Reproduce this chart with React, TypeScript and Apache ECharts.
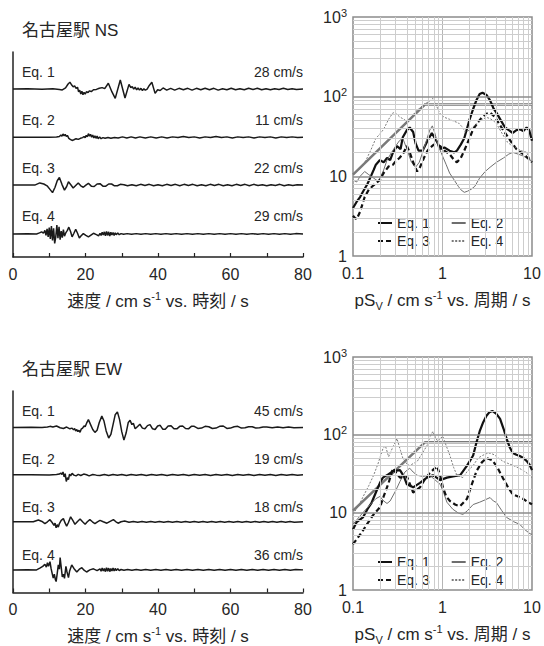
import React, { useEffect, useRef } from "react";
import * as echarts from "echarts";

const FONT = '"Liberation Sans", Arial, "Noto Sans CJK JP", sans-serif';
const TEXT = "#262626";

// ---- Velocity waveforms (time s, velocity cm/s) ----
const nsEq1: number[][] = [
  [0,0],[4,0.5],[8,-0.5],[11,0.5],[12.8,-1],[13.6,-2.5],[14.5,3],[15.2,14],[15.7,19],[16.2,11],[16.6,6],[17.0,9],[17.4,2],[17.8,5],[18.1,-8],[18.4,-3],[18.7,-14],[19.0,-6],[19.3,-16],[19.6,-9],[19.9,-14],[20.3,-7],[20.7,-10],[21.1,-5],[21.6,-7],[22.2,-2],[23,-1],[23.8,2],[24.6,4],[25.3,1],[26.3,16],[27.3,-8],[28.2,-26],[29.6,25],[30.9,-25],[32.0,13],[32.5,4],[32.9,7],[33.3,0],[33.7,5],[34.1,-2],[34.5,3],[34.9,-3],[35.3,2],[35.7,-4],[36.1,1],[36.5,-3],[37,0],[37.6,10],[38.3,19],[39.2,-12],[39.9,-2],[40.6,-4],[41.4,3],[42.4,-3],[43.5,2],[44.6,-3],[45.8,2],[47,-2],[48.2,2],[49.4,-3],[50.6,2],[51.8,-2],[53,2],[54.2,-2],[55.4,2],[56.6,-3],[57.8,1],[59,-2],[60.2,2],[61.4,-2],[62.6,1],[63.8,-2],[65,2],[66.2,-1],[67.4,2],[68.6,-2],[69.8,1],[71,-2],[72.2,1],[73.4,-1],[74.6,2],[75.8,-1],[77,1],[78.2,-1],[80,0]
];
const nsEq2: number[][] = [
  [0,0],[5,0.3],[10,-0.3],[12,0.5],[12.8,2],[13.2,6],[13.5,3],[13.8,9],[14.1,4],[14.4,8],[14.7,2],[15.0,5],[15.4,-3],[15.8,-6],[16.3,-9],[16.8,-7],[17.4,-4],[18.0,-6],[18.6,-3],[19.2,-1],[19.6,2],[19.9,-1],[20.2,5],[20.5,1],[20.8,10],[21.1,3],[21.4,8],[21.7,0],[22.0,6],[22.3,-2],[22.6,4],[22.9,-3],[23.2,3],[23.5,-4],[23.9,1],[24.3,-4],[24.8,-1],[25.4,-3],[26.2,-1],[27,-3],[28,-1],[29,-2],[30.2,1],[31.4,-2],[32.6,1],[33.8,-2],[35,1],[36.5,-2],[38,1],[39.5,-2],[41,1],[42.5,-2],[44,1],[45.5,-1],[47,2],[48.5,-1],[50,1],[51.5,-2],[53,1],[54.5,-1],[56,2],[57.5,-1],[59,1],[60.5,-2],[62,1],[63.5,-1],[65,1],[66.5,-2],[68,1],[69.5,-1],[71,1],[72.5,-2],[74,1],[75.5,-1],[77,1],[78.5,-1],[80,0]
];
const nsEq3: number[][] = [
  [0,0],[4,0.5],[6,0],[7.4,6],[8.5,3],[9.4,-2],[10.2,-12],[10.9,-21],[11.6,-6],[12.2,12],[12.8,21],[13.5,2],[14.2,-14],[14.8,-4],[15.3,9],[16,0],[16.6,-8],[17.3,-1],[18,6],[18.7,-2],[19.4,-6],[20.1,0],[20.8,5],[21.6,-3],[22.4,-4],[23.2,3],[24,4],[24.8,-3],[25.6,-3],[26.4,3],[27.2,3],[28,-2],[28.8,-2],[29.6,2],[30.6,1],[31.6,-2],[32.8,1],[34,-2],[35.2,2],[36.4,-1],[37.6,2],[38.8,-2],[40,1],[41.2,-2],[42.4,2],[43.6,-1],[44.8,2],[46,-2],[47.2,2],[48.4,-1],[49.6,2],[50.8,-2],[52,1],[53.2,-2],[54.4,2],[55.6,-1],[56.8,2],[58,-2],[59.2,1],[60.4,-2],[61.6,2],[62.8,-1],[64,2],[65.2,-2],[66.4,2],[67.6,-1],[68.8,1],[70,-2],[71.2,1],[72.4,-1],[73.6,2],[74.8,-2],[76,1],[77.2,-1],[78.4,1],[80,0]
];
const nsEq4: number[][] = [
  [0,0],[4,0.5],[6.5,0],[7.3,3],[7.9,6],[8.4,2],[8.8,10],[9.1,-4],[9.4,14],[9.7,-8],[10,18],[10.3,-14],[10.6,22],[10.9,-18],[11.2,16],[11.5,-26],[11.8,-8],[12.1,25],[12.4,-12],[12.7,20],[13,-16],[13.3,8],[13.6,-10],[13.9,12],[14.2,-6],[14.6,4],[15.0,10],[15.4,19],[15.9,6],[16.3,-8],[16.8,2],[17.3,13],[17.8,2],[18.3,-11],[18.8,-5],[19.4,1],[20.1,-4],[20.8,-8],[21.5,-3],[22.2,2],[23,-2],[23.6,-5],[24,2],[24.3,-4],[24.6,5],[24.9,-3],[25.2,6],[25.5,-5],[25.8,7],[26.1,-4],[26.4,6],[26.7,-6],[27,5],[27.3,-3],[27.6,4],[27.9,-4],[28.2,3],[28.5,-2],[28.9,3],[29.3,-2],[29.8,1],[30.5,-1],[31.5,1],[32.7,-1],[34,1],[35.3,-1],[36.6,1],[38,-1],[39.4,1],[40.8,-1],[42.2,1],[43.6,-1],[45,1],[46.5,-1],[48,1],[49.5,-1],[51,1],[52.5,-1],[54,1],[55.5,-1],[57,1],[58.5,-1],[60,1],[61.5,-1],[63,1],[64.5,-1],[66,1],[67.5,-1],[69,1],[70.5,-1],[72,1],[73.5,-1],[75,1],[76.5,-1],[78,1],[80,0]
];
const ewEq1: number[][] = [
  [0,0],[5,0.5],[8,-0.5],[9.5,1],[10.2,3],[11,1],[12,4],[13,-1],[13.9,-3],[14.8,1],[15.7,-4],[16.3,-2],[16.7,-7],[17.0,-3],[17.3,-10],[17.6,-6],[17.9,-12],[18.2,-8],[18.5,-14],[18.8,-5],[19.2,-2],[19.6,4],[19.9,2],[20.3,12],[20.8,22],[21.4,8],[22.0,-6],[22.6,-14],[23.2,-8],[23.8,14],[24.5,32],[25.1,18],[25.7,-10],[26.4,-30],[27.0,-20],[27.6,8],[28.2,36],[28.8,44],[29.4,22],[30.0,-12],[30.6,-36],[31.2,-16],[31.8,14],[32.3,20],[32.8,8],[33.2,12],[33.7,-4],[34.3,2],[35,9],[35.7,-2],[36.4,-4],[37.1,5],[37.8,8],[38.5,-4],[39.2,-6],[39.9,4],[40.6,6],[41.3,-5],[42,-5],[42.8,4],[43.6,5],[44.4,-4],[45.2,-4],[46,3],[46.8,4],[47.6,-3],[48.4,-4],[49.2,3],[50,3],[51,-3],[52,-2],[53,3],[54,2],[55,-3],[56,-2],[57,3],[58,4],[59,-3],[60,-2],[61,2],[62,3],[63,-2],[64,-1],[65,2],[66,2],[67,-2],[68,-1],[69,1],[70,1],[71.5,-1],[73,1],[74.5,-1],[76,1],[77.5,-1],[80,0]
];
const ewEq2: number[][] = [
  [0,0],[5,0.3],[10,-0.3],[12,0.5],[12.8,2],[13.2,5],[13.5,1],[13.8,8],[14.1,-6],[14.4,3],[14.7,-19],[15.0,-8],[15.3,-14],[15.6,2],[15.9,-3],[16.3,4],[16.8,-1],[17.4,-3],[18,1],[18.7,-2],[19.5,2],[20.3,0],[21,-3],[22,1],[23,-1],[24,-2],[25.2,1],[26.4,-2],[27.6,1],[28.8,-1],[30,1],[31.3,-2],[32.6,1],[34,-1],[35.4,1],[36.8,-2],[38.2,1],[39.6,-1],[41,1],[42.5,-2],[44,1],[45.5,-1],[47,1],[48.5,-2],[50,1],[51.5,-1],[53,1],[54.5,-2],[56,1],[57.5,-1],[59,1],[60.5,-2],[62,1],[63.5,-1],[65,1],[66.5,-2],[68,1],[69.5,-1],[71,1],[72.5,-2],[74,1],[75.5,-1],[77,1],[78.5,-1],[80,0]
];
const ewEq3: number[][] = [
  [0,0],[4,0.3],[5.6,0],[7,5],[8,1],[8.8,-5],[9.5,0],[10.2,6],[10.8,-2],[11.3,-10],[11.6,-4],[11.9,-17],[12.2,-8],[12.5,-15],[12.8,-5],[13.3,4],[13.9,9],[14.4,-4],[14.8,-12],[15.3,-2],[15.9,14],[16.5,4],[17.1,-7],[17.8,1],[18.5,8],[19.2,0],[19.9,-7],[20.5,0],[21.2,6],[21.9,0],[22.6,-5],[23.3,0],[24,4],[24.9,0],[25.9,-4],[26.8,1],[27.7,6],[28.4,0],[29,-4],[29.8,0],[30.8,2],[32,-1],[33.2,1],[34.4,-1],[35.6,1],[36.8,-1],[38,1],[39.2,-1],[40.4,1],[41.6,-1],[42.8,1],[44,-1],[45.2,1],[46.4,-1],[47.6,1],[48.8,-1],[50,1],[51.2,-1],[52.4,1],[53.6,-1],[54.8,1],[56,-1],[57.2,1],[58.4,-1],[59.6,1],[60.8,-1],[62,1],[63.2,-1],[64.4,1],[65.6,-1],[66.8,1],[68,-1],[69.2,1],[70.4,-1],[71.6,1],[72.8,-1],[74,1],[75.2,-1],[76.4,1],[77.6,-1],[80,0]
];
const ewEq4: number[][] = [
  [0,0],[4,0.5],[6.5,0],[7.4,5],[8.2,10],[8.8,16],[9.2,8],[9.5,20],[9.8,10],[10.2,23],[10.5,4],[10.8,-10],[11.1,-23],[11.4,-12],[11.7,-28],[11.9,-33],[12.2,-10],[12.5,14],[12.8,2],[13.0,35],[13.3,8],[13.6,-20],[13.9,-12],[14.2,-24],[14.6,10],[14.9,-6],[15.3,-22],[15.6,-4],[16.2,14],[16.8,4],[17.6,-6],[18.3,2],[19,6],[19.6,-1],[20.3,-6],[21.2,0],[22.2,3],[23.2,-2],[24,3],[24.3,-4],[24.6,5],[24.9,-3],[25.2,4],[25.5,-5],[25.8,6],[26.1,-4],[26.4,5],[26.7,-5],[27,4],[27.3,-3],[27.6,5],[27.9,-3],[28.2,4],[28.5,-2],[28.9,3],[29.3,-2],[29.8,1],[30.6,-1],[31.6,1],[32.8,-1],[34,1],[35.3,-1],[36.6,1],[38,-1],[39.4,1],[40.8,-1],[42.2,1],[43.6,-1],[45,1],[46.5,-1],[48,1],[49.5,-1],[51,1],[52.5,-1],[54,1],[55.5,-1],[57,1],[58.5,-1],[60,1],[61.5,-1],[63,1],[64.5,-1],[66,1],[67.5,-1],[69,1],[70.5,-1],[72,1],[73.5,-1],[75,1],[76.5,-1],[78,1],[80,0]
];

const EQ_NAMES = ["Eq. 1", "Eq. 2", "Eq. 3", "Eq. 4"];
const NS_PEAKS = ["28 cm/s", "11 cm/s", "22 cm/s", "29 cm/s"];
const EW_PEAKS = ["45 cm/s", "19 cm/s", "18 cm/s", "36 cm/s"];
// vertical offset (cm/s) of each stacked trace
const TRACE_OFFSETS = [-103, -237, -370, -506];
const WAVE_Y_MIN = -570;
const WAVE_Y_MAX = 0;
const TIME_MIN = 0;
const TIME_MAX = 80;
const TIME_STEP = 10;

// ---- Pseudo-velocity response spectra (period s, pSv cm/s) ----
const nsSpecEq1: number[][] = [[0.1,4],[0.11,4.8],[0.12,5.5],[0.13,6.5],[0.145,8],[0.155,9.5],[0.17,12],[0.18,14],[0.2,16],[0.22,15],[0.24,17],[0.26,16],[0.28,20],[0.31,24],[0.34,22],[0.36,31],[0.4,38],[0.43,41],[0.47,36],[0.5,26],[0.54,21],[0.6,21],[0.68,28],[0.76,35],[0.82,30],[0.87,27],[0.95,22],[1.05,23],[1.2,21],[1.35,20],[1.45,21],[1.6,25],[1.75,30],[2.0,51],[2.2,70],[2.4,91],[2.6,108],[2.8,112],[3.1,105],[3.4,90],[3.7,72],[4.0,63],[4.5,50],[5.0,41],[5.5,38],[6.1,35],[6.7,38],[7.3,39],[8.0,37],[8.7,41],[9.3,38],[10,28]];
const nsSpecEq2: number[][] = [[0.1,9],[0.11,8.5],[0.12,10],[0.135,11.5],[0.15,10.5],[0.17,9.5],[0.19,8.7],[0.2,9.5],[0.22,12],[0.24,16],[0.27,20],[0.3,24],[0.33,28],[0.36,30],[0.4,22],[0.45,15],[0.5,13],[0.55,15],[0.6,20],[0.66,28],[0.72,38],[0.77,43],[0.82,35],[0.9,24],[1.0,18],[1.1,14],[1.2,11],[1.35,9],[1.5,7.5],[1.6,6.8],[1.75,6.3],[1.9,6.5],[2.1,6.9],[2.3,7.5],[2.6,9.5],[3.0,11.5],[3.4,13],[4.0,15],[4.8,17],[5.5,19],[6.1,20],[7,19],[8,18],[9.5,16],[10,15]];
const nsSpecEq3: number[][] = [[0.1,3.2],[0.105,3.0],[0.11,2.9],[0.12,3.6],[0.135,5.5],[0.15,6.8],[0.165,7.5],[0.18,8.2],[0.2,9],[0.22,11],[0.25,13.3],[0.28,14],[0.3,15.5],[0.33,17],[0.36,19],[0.4,24],[0.43,20],[0.47,15],[0.52,11.5],[0.56,13],[0.62,17],[0.68,21],[0.73,23],[0.8,25],[0.88,24],[0.94,24],[1.05,21],[1.2,19],[1.35,16],[1.45,15],[1.6,17],[1.75,21],[2.0,30],[2.2,39],[2.5,48],[2.8,56],[3.1,61],[3.4,63],[3.7,58],[4.0,52],[4.5,42],[5.3,32],[6.0,26],[6.7,22],[7.5,20],[8.5,18],[10,15]];
const nsSpecEq4: number[][] = [[0.1,10.5],[0.115,12],[0.13,14],[0.14,16],[0.16,22],[0.18,30],[0.2,34],[0.22,39],[0.25,52],[0.28,63],[0.31,60],[0.33,56],[0.37,52],[0.41,48],[0.45,55],[0.5,65],[0.56,72],[0.62,80],[0.67,84],[0.72,88],[0.78,95],[0.84,82],[0.89,69],[0.95,60],[1.05,55],[1.2,52],[1.35,49],[1.5,47],[1.65,42],[1.8,36],[2.0,38],[2.2,42],[2.5,47],[2.8,52],[3.1,55],[3.4,53],[3.7,50],[4.0,46],[4.6,35],[5.3,27],[6.0,24],[6.7,23],[7.5,21],[8.7,20],[10,15]];

const ewSpecEq1: number[][] = [[0.1,6],[0.11,7.5],[0.129,8.6],[0.145,11],[0.16,13],[0.18,18],[0.2,24],[0.216,28],[0.25,31],[0.28,34],[0.335,35],[0.37,29],[0.4,23],[0.47,21],[0.56,24],[0.67,28],[0.78,30],[0.86,28],[0.94,26],[1.12,28],[1.31,29],[1.57,30],[1.88,40],[2.2,54],[2.4,80],[2.6,110],[2.85,145],[3.1,175],[3.35,195],[3.6,202],[4.0,185],[4.4,160],[4.8,120],[5.2,89],[5.6,70],[6.1,58],[6.7,55],[7.3,53],[8.0,50],[8.7,46],[9.4,41],[10,35]];
const ewSpecEq2: number[][] = [[0.1,7],[0.12,9],[0.14,11],[0.16,13],[0.18,15],[0.2,16],[0.22,14],[0.24,13],[0.26,14],[0.3,19],[0.335,25],[0.38,33],[0.43,37],[0.47,33],[0.52,30],[0.6,29],[0.72,30],[0.8,27],[0.94,23],[1.03,18],[1.12,13.5],[1.3,11],[1.5,9.8],[1.69,9.4],[1.9,10.5],[2.2,12.6],[2.6,13.5],[3.0,14.5],[3.4,15.5],[3.7,14],[4.0,13.4],[4.6,10.5],[5.2,8.6],[6.2,7.6],[7.3,7],[8.3,6],[9.5,5.3],[10,5.2]];
const ewSpecEq3: number[][] = [[0.1,3.9],[0.11,4.5],[0.125,5.5],[0.143,7],[0.165,9],[0.2,11.6],[0.22,16],[0.25,24],[0.28,37],[0.31,31],[0.335,28],[0.4,29],[0.44,22],[0.47,18],[0.56,21],[0.64,27],[0.72,32],[0.8,36],[0.87,39],[0.94,30],[1.01,21],[1.1,16],[1.21,14],[1.4,12.5],[1.57,12],[1.88,15],[2.1,22],[2.4,34],[2.75,44],[3.1,50],[3.6,47],[4.1,38],[4.7,28],[5.4,21],[6.1,17],[7.0,16],[7.9,15],[9.0,13.5],[10,12.7]];
const ewSpecEq4: number[][] = [[0.1,9.5],[0.115,12],[0.13,16],[0.15,22],[0.17,30],[0.19,42],[0.205,55],[0.216,66],[0.23,72],[0.25,52],[0.28,70],[0.31,89],[0.34,62],[0.36,50],[0.4,42],[0.43,40],[0.48,43],[0.52,45],[0.58,55],[0.67,72],[0.73,95],[0.78,110],[0.84,90],[0.89,82],[0.95,90],[1.01,95],[1.1,72],[1.21,54],[1.33,38],[1.45,30],[1.69,28],[1.9,34],[2.2,40],[2.5,50],[2.8,54],[3.1,57],[3.4,58],[3.8,55],[4.2,50],[4.8,45],[5.3,43],[6.2,40],[7.2,37],[8.5,33],[10,28]];

// design (target) spectrum
const DESIGN_SPEC: number[][] = [[0.1,10.5],[0.64,80],[10,80]];

// grid line positions on the log axes
const PERIOD_MINOR = [0.2,0.3,0.4,0.5,0.6,0.7,0.8,0.9,2,3,4,5,6,7,8,9];
const PERIOD_MAJOR = [1];
const PSV_MINOR = [2,3,4,5,6,7,8,9,20,30,40,50,60,70,80,90,200,300,400,500,600,700,800,900];
const PSV_MAJOR = [10,100];

const SPEC_STYLES = [
  { color: "#111", width: 2.2, type: "solid" },
  { color: "#6e6e6e", width: 1, type: "solid" },
  { color: "#111", width: 2.2, type: [5, 3] },
  { color: "#7a7a7a", width: 1, type: [2, 1.5] },
];

const nameRich = {
  a: { fontSize: 17, fontFamily: FONT, color: TEXT, lineHeight: 22 },
  sup: { fontSize: 11, fontFamily: FONT, color: TEXT, lineHeight: 12, verticalAlign: "top" },
  sub: { fontSize: 11, fontFamily: FONT, color: TEXT, lineHeight: 12, verticalAlign: "bottom" },
};

export default function App() {
  const ref = useRef<HTMLDivElement>(null);
  useEffect(() => {
    if (!ref.current) return;
    const chart = echarts.init(ref.current, null, { renderer: "svg" });

    const grids = [
      { left: 13, top: 52, width: 290, height: 205 },
      { left: 353, top: 17, width: 179, height: 239, show: true, borderColor: "#8c8c8c", borderWidth: 1.5, backgroundColor: "transparent" },
      { left: 13, top: 391, width: 290, height: 205 },
      { left: 353, top: 357, width: 179, height: 237, show: true, borderColor: "#8c8c8c", borderWidth: 1.5, backgroundColor: "transparent" },
    ];

    const timeAxis = (g: number) => ({
      gridIndex: g, type: "value", min: TIME_MIN, max: TIME_MAX, interval: TIME_STEP,
      axisLine: { show: true, onZero: false, lineStyle: { color: "#222", width: 1.5 } },
      axisTick: { show: true, inside: true, length: 4, lineStyle: { color: "#222", width: 1.2 } },
      axisLabel: { formatter: (v: number) => (v % 20 === 0 ? String(v) : ""), fontSize: 16, color: TEXT, fontFamily: FONT, margin: 9 },
      splitLine: { show: false },
      name: "{a|速度 / cm s}{sup|-1}{a| vs. 時刻 / s}",
      nameLocation: "middle", nameGap: 33,
      nameTextStyle: { rich: nameRich },
    });
    const periodAxis = (g: number) => ({
      gridIndex: g, type: "log", logBase: 10, min: 0.1, max: 10,
      axisLine: { show: false }, axisTick: { show: false }, splitLine: { show: false },
      axisLabel: { formatter: (v: number) => String(Number(v.toPrecision(3))), fontSize: 16, color: TEXT, fontFamily: FONT, margin: 9 },
      name: "{a|pS}{sub|V}{a| / cm s}{sup|-1}{a| vs. 周期 / s}",
      nameLocation: "middle", nameGap: 33,
      nameTextStyle: { rich: nameRich },
    });
    const waveYAxis = (g: number) => ({
      gridIndex: g, type: "value", min: WAVE_Y_MIN, max: WAVE_Y_MAX,
      axisLine: { show: true, onZero: false, lineStyle: { color: "#222", width: 1.5 } },
      axisTick: { show: false }, axisLabel: { show: false }, splitLine: { show: false },
    });
    const psvAxis = (g: number) => ({
      gridIndex: g, type: "log", logBase: 10, min: 1, max: 1000,
      axisLine: { show: false }, axisTick: { show: false }, splitLine: { show: false },
      axisLabel: {
        fontSize: 16, color: TEXT, fontFamily: FONT, margin: 6,
        formatter: (v: number) => {
          const e = Math.round(Math.log10(v));
          return e <= 1 ? String(Math.round(v)) : `{b|10}{s|${e}}`;
        },
        rich: {
          b: { fontSize: 16, fontFamily: FONT, color: TEXT, lineHeight: 20 },
          s: { fontSize: 11, fontFamily: FONT, color: TEXT, lineHeight: 11, verticalAlign: "top" },
        },
      },
    });

    const waveSeries = (data: number[][], off: number, idx: number) => ({
      type: "line", xAxisIndex: idx, yAxisIndex: idx, silent: true, symbol: "none", z: 3,
      data: data.map((p) => [p[0], p[1] + off]),
      lineStyle: { color: "#1a1a1a", width: 1.5 },
    });
    const specSeries = (name: string, data: number[][], idx: number, k: number) => ({
      name, type: "line", xAxisIndex: idx, yAxisIndex: idx, silent: true, symbol: "none", z: 4,
      data, lineStyle: SPEC_STYLES[k], itemStyle: { color: SPEC_STYLES[k].color },
    });
    const gridLineSeries = (idx: number) => ({
      type: "line", xAxisIndex: idx, yAxisIndex: idx, silent: true, symbol: "none", z: 1, data: [],
      markLine: {
        silent: true, symbol: ["none", "none"], label: { show: false }, animation: false,
        data: [
          ...PERIOD_MINOR.map((x) => ({ xAxis: x, lineStyle: { color: "#cdcdcd", width: 1, type: "solid" } })),
          ...PERIOD_MAJOR.map((x) => ({ xAxis: x, lineStyle: { color: "#b5b5b5", width: 1, type: "solid" } })),
          ...PSV_MINOR.map((y) => ({ yAxis: y, lineStyle: { color: "#cdcdcd", width: 1, type: "solid" } })),
          ...PSV_MAJOR.map((y) => ({ yAxis: y, lineStyle: { color: "#8c8c8c", width: 1.6, type: "solid" } })),
        ],
      },
    });
    const designSeries = (idx: number) => ({
      type: "line", xAxisIndex: idx, yAxisIndex: idx, silent: true, symbol: "none", z: 2,
      data: DESIGN_SPEC, lineStyle: { color: "#7a7a7a", width: 2.5 },
    });

    const nsWaves = [nsEq1, nsEq2, nsEq3, nsEq4];
    const ewWaves = [ewEq1, ewEq2, ewEq3, ewEq4];
    const nsSpecs = [nsSpecEq1, nsSpecEq2, nsSpecEq3, nsSpecEq4];
    const ewSpecs = [ewSpecEq1, ewSpecEq2, ewSpecEq3, ewSpecEq4];

    const series: any[] = [];
    nsWaves.forEach((d, i) => series.push(waveSeries(d, TRACE_OFFSETS[i], 0)));
    ewWaves.forEach((d, i) => series.push(waveSeries(d, TRACE_OFFSETS[i], 2)));
    series.push(gridLineSeries(1), gridLineSeries(3));
    series.push(designSeries(1), designSeries(3));
    nsSpecs.forEach((d, i) => series.push(specSeries(EQ_NAMES[i], d, 1, i)));
    ewSpecs.forEach((d, i) => series.push(specSeries(EQ_NAMES[i], d, 3, i)));

    const legendBase = {
      orient: "horizontal", itemWidth: 14, itemHeight: 12, itemGap: 21, padding: 0,
      selectedMode: false,
      itemStyle: { opacity: 0, borderWidth: 0 },
      textStyle: { fontSize: 14, color: TEXT, fontFamily: FONT },
    };
    const legends = [
      { ...legendBase, data: [EQ_NAMES[0], EQ_NAMES[1]], left: 377, top: 216 },
      { ...legendBase, data: [EQ_NAMES[2], EQ_NAMES[3]], left: 377, top: 234 },
      { ...legendBase, data: [EQ_NAMES[0], EQ_NAMES[1]], left: 377, top: 555 },
      { ...legendBase, data: [EQ_NAMES[2], EQ_NAMES[3]], left: 377, top: 573 },
    ];

    const txt = (text: string, x: number, y: number, align: string, size = 14) => ({
      type: "text", x, y, silent: true,
      style: { text, fill: TEXT, fontSize: size, fontFamily: FONT, textAlign: align, textVerticalAlign: "middle" },
    });
    const graphics: any[] = [
      txt("名古屋駅 NS", 22, 30, "left", 17),
      txt("名古屋駅 EW", 22, 369, "left", 17),
    ];
    EQ_NAMES.forEach((n, i) => {
      graphics.push(txt(n, 22, 72 + i * 48, "left"));
      graphics.push(txt(NS_PEAKS[i], 303, 72 + i * 48, "right"));
      graphics.push(txt(n, 22, 411 + i * 48, "left"));
      graphics.push(txt(EW_PEAKS[i], 303, 411 + i * 48, "right"));
    });

    chart.setOption({
      animation: false,
      backgroundColor: "#fff",
      textStyle: { fontFamily: FONT },
      grid: grids,
      xAxis: [timeAxis(0), periodAxis(1), timeAxis(2), periodAxis(3)],
      yAxis: [waveYAxis(0), psvAxis(1), waveYAxis(2), psvAxis(3)],
      legend: legends,
      series,
      graphic: graphics,
    });
    return () => chart.dispose();
  }, []);
  return <div ref={ref} style={{ position: "fixed", left: 0, top: 0, width: 544, height: 646 }} />;
}
